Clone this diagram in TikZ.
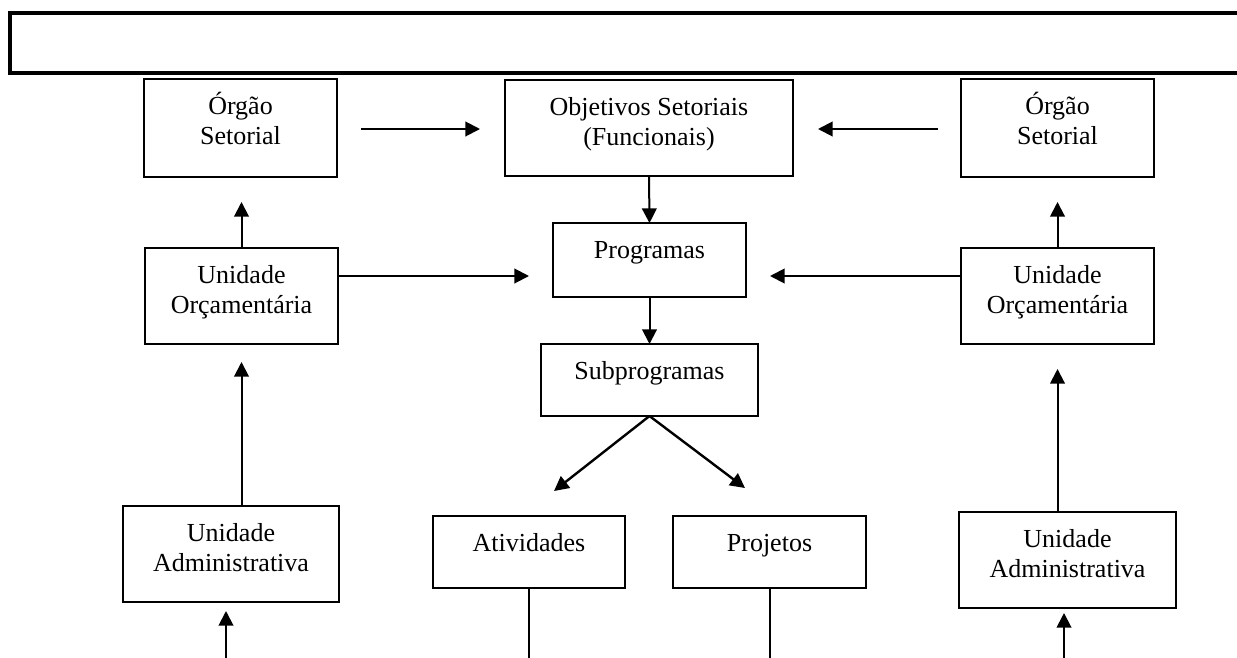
\documentclass[tikz,border=0pt]{standalone}
\usepackage{fontspec}
\setmainfont{Liberation Serif}
\usetikzlibrary{arrows.meta,calc,fit}
\tikzset{
  box/.style={draw, line width=1.5pt, inner sep=0pt, outer sep=0pt, rectangle},
  lbl/.style={anchor=base, inner sep=0pt, font=\fontsize{19.5}{22.5}\selectfont},
  arr/.style={line width=1.5pt, -{Triangle[length=11pt,width=11pt]}},
  ln/.style={line width=1.5pt},
  bar/.style={line width=3pt},
}
\newcommand\mkbox[6]{%
  \node[box, fit={(#2,#3) (#4,#5)}] (#1) {};
  \node[lbl] (#1-t) at ($(#1.north)+(0,35)$) {\begin{tabular}[t]{@{}c@{}}#6\end{tabular}};}
\begin{document}
\begin{tikzpicture}[x=0.75pt,y=-0.75pt]
\useasboundingbox (0,0) rectangle (1237,657);
\clip (0,0) rectangle (1237,657);
\draw[bar] (1245,12.5) -- (9.5,12.5) -- (9.5,72.5) -- (1245,72.5);
\mkbox{orgL}{144}{79}{337}{177}{Órgão\\Setorial}
\mkbox{obj}{505}{80}{793}{176}{Objetivos Setoriais\\(Funcionais)}
\mkbox{orgR}{961}{79}{1154}{177}{Órgão\\Setorial}
\mkbox{prog}{553}{223}{746}{297}{Programas}
\mkbox{uoL}{145}{248}{338}{344}{Unidade\\Orçamentária}
\mkbox{uoR}{961}{248}{1154}{344}{Unidade\\Orçamentária}
\mkbox{sub}{541}{344}{758}{416}{Subprogramas}
\mkbox{ativ}{433}{516}{625}{588}{Atividades}
\mkbox{proj}{673}{516}{866}{588}{Projetos}
\mkbox{uaL}{123}{506}{339}{602}{Unidade\\Administrativa}
\mkbox{uaR}{959}{512}{1176}{608}{Unidade\\Administrativa}
\coordinate (r1) at (0,129);
\coordinate (r2) at (0,276);
\coordinate (ta) at (554,491);
\coordinate (tp) at (745,488);
\coordinate (bL) at (226,660);
\coordinate (bR) at (1064,660);
\coordinate (bot) at (0,660);
\draw[arr, shorten <=18pt, shorten >=18.75pt] (orgL.east |- r1) -- (obj.west |- r1);
\draw[arr, shorten <=17.25pt, shorten >=18.75pt] (orgR.west |- r1) -- (obj.east |- r1);
\draw[arr] (obj.south) -- (prog.north);
\draw[arr, shorten >=18pt] (uoL.east |- r2) -- (prog.west |- r2);
\draw[arr, shorten >=18pt] (uoR.west |- r2) -- (prog.east |- r2);
\draw[arr] (prog.south) -- (sub.north);
\draw[arr, line width=1.8pt] (sub.south) -- (ta);
\draw[arr, line width=1.8pt] (sub.south) -- (tp);
\draw[arr, shorten >=18.75pt] (uoL.north) -- (uoL.north |- orgL.south);
\draw[arr, shorten >=18.75pt] (uoR.north) -- (uoR.north |- orgR.south);
\draw[arr, shorten >=13.5pt] (uoL.south |- uaL.north) -- (uoL.south);
\draw[arr, shorten >=18.75pt] (uoR.south |- uaR.north) -- (uoR.south);
\draw[arr, shorten >=6.75pt] (bL) -- (bL |- uaL.south);
\draw[arr, shorten >=3.75pt] (bR) -- (bR |- uaR.south);
\draw[ln] (ativ.south) -- (ativ.south |- bot);
\draw[ln] (proj.south) -- (proj.south |- bot);
\end{tikzpicture}
\end{document}
